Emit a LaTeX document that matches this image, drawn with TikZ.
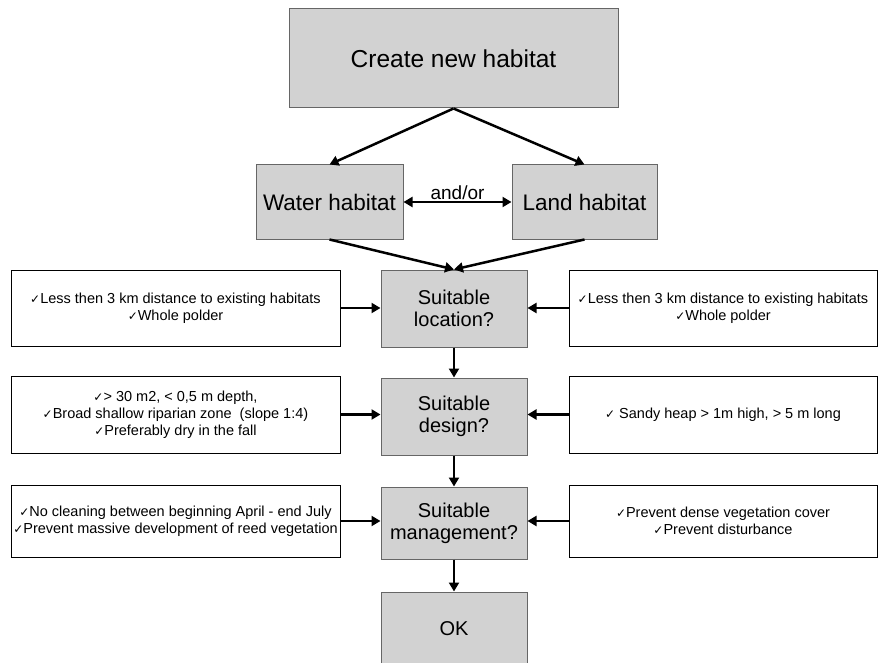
\documentclass[tikz,border=0pt]{standalone}
\usepackage{fontspec}
\setmainfont{Liberation Sans}
\newfontfamily\symfont{DejaVu Sans}
\usetikzlibrary{arrows.meta,positioning,calc}
\newcommand{\chk}{{\symfont\fontsize{12}{12}\selectfont ✓}}

\begin{document}
\begin{tikzpicture}[
    x=1pt, y=-1pt,
    gbox/.style={draw=black!60, fill=gray!35, line width=1pt, inner sep=0pt, align=center, font=\fontsize{20}{22}\selectfont, minimum width=146pt},
    side/.style={draw=black, fill=white, line width=0.8pt, inner sep=0pt, align=center, font=\fontsize{14.5}{17}\selectfont},
    arrow/.style={->, line width=2.5pt, >={Triangle[length=9pt,width=10pt]}}
]
    \useasboundingbox (0,0) rectangle (886,663);

    % Top of the tree
    \node[gbox, minimum width=329pt, minimum height=99pt, font=\fontsize{24.5}{28}\selectfont] (create) at (453.5,58.5) {Create new habitat};
    \node[gbox, minimum width=147pt, minimum height=74pt, font=\fontsize{22.5}{26}\selectfont] (water) at (329.5,202) {Water habitat};
    \node[gbox, minimum width=145pt, minimum height=74pt, font=\fontsize{22.5}{26}\selectfont] (land) at (584.5,202) {Land habitat};

    % Checks in the middle
    \node[gbox, minimum height=77pt] (loc) at (454,308.5) {Suitable\\location?};
    \node[gbox, minimum height=77pt] (design) at (454,416.5) {Suitable\\design?};
    \node[gbox, minimum height=72pt] (manage) at (454,523) {Suitable\\management?};
    \node[gbox, minimum height=74pt] (ok) at (454,629) {OK};

    % Water criteria (left)
    \node[side, minimum width=329pt, minimum height=76pt] (wloc) at (175.5,308) {\chk Less then 3 km distance to existing habitats\\\chk Whole polder};
    \node[side, minimum width=329pt, minimum height=77pt] (wdes) at (175.5,414.5) {\chk > 30 m2, < 0,5 m depth,\\\chk Broad shallow riparian zone \ (slope 1:4)\\\chk Preferably dry in the fall};
    \node[side, minimum width=329pt, minimum height=72pt] (wman) at (175.5,521) {\chk No cleaning between beginning April - end July\\\chk Prevent massive development of reed vegetation};

    % Land criteria (right)
    \node[side, minimum width=308pt, minimum height=76pt] (lloc) at (723,308) {\chk Less then 3 km distance to existing habitats\\\chk Whole polder};
    \node[side, minimum width=308pt, minimum height=77pt] (ldes) at (723,414.5) {\chk\ Sandy heap > 1m high, > 5 m long};
    \node[side, minimum width=308pt, minimum height=72pt] (lman) at (723,521) {\chk Prevent dense vegetation cover\\\chk Prevent disturbance};

    \draw[arrow] (create.south) -- (water.north);
    \draw[arrow] (create.south) -- (land.north);
    \draw[arrow, <->] (water) -- node[above, inner sep=1pt, font=\fontsize{19}{21}\selectfont] {and/or} (land);
    \draw[arrow] (water.south) -- (loc.north);
    \draw[arrow] (land.south) -- (loc.north);
    \draw[arrow] (loc) -- (design);
    \draw[arrow] (design) -- (manage);
    \draw[arrow] (manage) -- (ok);
    \draw[arrow] (wloc) -- (wloc -| loc.west);
    \draw[arrow] (wdes) -- (wdes -| design.west);
    \draw[arrow] (wman) -- (wman -| manage.west);
    \draw[arrow] (lloc) -- (lloc -| loc.east);
    \draw[arrow] (ldes) -- (ldes -| design.east);
    \draw[arrow] (lman) -- (lman -| manage.east);
\end{tikzpicture}
\end{document}
